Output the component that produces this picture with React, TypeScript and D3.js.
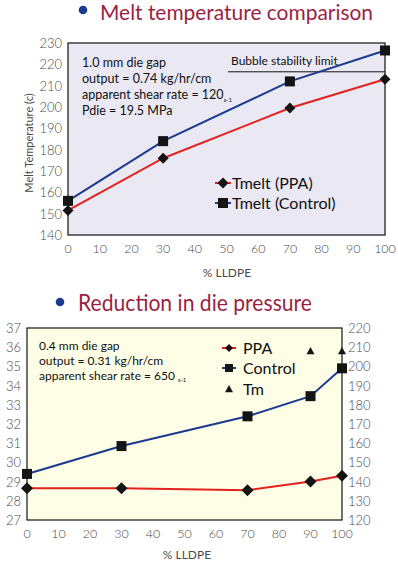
import React from 'react';
import * as d3 from 'd3';

// top chart: melt temperature
const meltX = [0, 30, 70, 100];
const meltPPA = [151.5, 176, 199.5, 213];
const meltControl = [156, 184, 212, 226.5];
const bubbleLimit = 216.5;
const meltYTicks = [140, 150, 160, 170, 180, 190, 200, 210, 220, 230];
const pctTicks = [0, 10, 20, 30, 40, 50, 60, 70, 80, 90, 100];

// bottom chart: die pressure
const pressX = [0, 30, 70, 90, 100];
const pressPPA = [28.65, 28.65, 28.55, 29.0, 29.3];
const pressControl = [29.4, 30.85, 32.4, 33.45, 34.9];
const tmX = [90, 100];
const tmValues = [208, 208];
const pressLeftTicks = [27, 28, 29, 30, 31, 32, 33, 34, 35, 36, 37];
const pressRightTicks = [120, 130, 140, 150, 160, 170, 180, 190, 200, 210, 220];

const RED = '#e3211f';
const BLUE = '#1b3a8f';
const TITLE = '#9c1f42';
const GREY = '#4a4a4a';
const FONT = 'Lato, "DejaVu Sans", sans-serif';

const Diamond = ({ x, y, r = 5.5 }: { x: number; y: number; r?: number }) => (
  <path d={`M${x},${y - r}L${x + r},${y}L${x},${y + r}L${x - r},${y}Z`} fill="#141414" />
);
const Square = ({ x, y, s = 10 }: { x: number; y: number; s?: number }) => (
  <rect x={x - s / 2} y={y - s / 2} width={s} height={s} fill="#141414" />
);
const Triangle = ({ x, y, r = 5 }: { x: number; y: number; r?: number }) => (
  <path d={`M${x},${y - r}L${x + r},${y + r * 0.8}L${x - r},${y + r * 0.8}Z`} fill="#141414" />
);

const MeltChart = () => {
  const x = d3.scaleLinear().domain([0, 100]).range([68, 385]);
  const y = d3.scaleLinear().domain([140, 230]).range([235, 43]);
  const line = d3.line<number>().x((_, i) => x(meltX[i])).y(d => y(d));
  return (
    <g>
      <circle cx={83} cy={10} r={4.3} fill="#1b3a8f" />
      <text x={100} y={20} fontSize={21} fill={TITLE} fontFamily={FONT} textLength={273} lengthAdjust="spacingAndGlyphs">Melt temperature comparison</text>
      <rect x={68} y={43} width={317} height={192} fill="#e9e8f3" stroke="#111" strokeWidth={1.2} />
      {meltYTicks.map(t => (
        <text key={t} x={62} y={y(t) + 5} textAnchor="end" fontSize={13} fill={GREY} fontFamily={FONT} fontWeight={300}>{t}</text>
      ))}
      {pctTicks.map(t => (
        <text key={t} x={x(t)} y={253} textAnchor="middle" fontSize={12.5} fill={GREY} fontFamily={FONT} fontWeight={300}>{t}</text>
      ))}
      <text x={227} y={277} textAnchor="middle" fontSize={12} fill={GREY} fontFamily={FONT}>% LLDPE</text>
      <text transform="translate(33,143) rotate(-90)" textAnchor="middle" fontSize={11} fill={GREY} fontFamily={FONT}>Melt Temperature (c)</text>
      <line x1={228} x2={385} y1={y(bubbleLimit)} y2={y(bubbleLimit)} stroke="#111" strokeWidth={1} />
      <text x={231} y={65} fontSize={12} fill="#111" fontFamily={FONT}>Bubble stability limit</text>
      <g fontSize={12.5} fill="#111" fontFamily={FONT}>
        <text x={82} y={67}>1.0 mm die gap</text>
        <text x={82} y={83}>output = 0.74 kg/hr/cm</text>
        <text x={82} y={99}>apparent shear rate = 120<tspan fontSize={6} dy={3}>s-1</tspan></text>
        <text x={82} y={115}>Pdie = 19.5 MPa</text>
      </g>
      <path d={line(meltPPA) || ''} fill="none" stroke={RED} strokeWidth={2} />
      <path d={line(meltControl) || ''} fill="none" stroke={BLUE} strokeWidth={2} />
      {meltPPA.map((v, i) => <Diamond key={'p' + i} x={x(meltX[i])} y={y(v)} />)}
      {meltControl.map((v, i) => <Square key={'c' + i} x={x(meltX[i])} y={y(v)} />)}
      <line x1={215} x2={231} y1={183} y2={183} stroke={RED} strokeWidth={2} />
      <Diamond x={223} y={183} />
      <text x={232} y={189} fontSize={16} fill="#111" fontFamily={FONT}>Tmelt (PPA)</text>
      <line x1={215} x2={231} y1={203} y2={203} stroke={BLUE} strokeWidth={2} />
      <Square x={223} y={203} />
      <text x={232} y={209} fontSize={16} fill="#111" fontFamily={FONT}>Tmelt (Control)</text>
    </g>
  );
};

const PressureChart = () => {
  const x = d3.scaleLinear().domain([0, 100]).range([27, 342]);
  const yL = d3.scaleLinear().domain([27, 37]).range([520, 328]);
  const yR = d3.scaleLinear().domain([120, 220]).range([520, 328]);
  const ppaLine = d3.line<number>().x((_, i) => x(pressX[i])).y(d => yL(d));
  return (
    <g>
      <circle cx={60} cy={302} r={4.3} fill="#1b3a8f" />
      <text x={78} y={311} fontSize={23.5} fill={TITLE} fontFamily={FONT} textLength={234} lengthAdjust="spacingAndGlyphs">Reduction in die pressure</text>
      <rect x={27} y={328} width={315} height={192} fill="#fefee6" stroke="#111" strokeWidth={1.2} />
      {pressLeftTicks.map(t => (
        <text key={t} x={21} y={yL(t) + 5} textAnchor="end" fontSize={13} fill={GREY} fontFamily={FONT} fontWeight={300}>{t}</text>
      ))}
      {pressRightTicks.map(t => (
        <text key={t} x={348} y={yR(t) + 5} fontSize={13} fill={GREY} fontFamily={FONT} fontWeight={300}>{t}</text>
      ))}
      {pctTicks.map(t => (
        <text key={t} x={x(t)} y={538} textAnchor="middle" fontSize={12.5} fill={GREY} fontFamily={FONT} fontWeight={300}>{t}</text>
      ))}
      <text x={187} y={559} textAnchor="middle" fontSize={12} fill={GREY} fontFamily={FONT}>% LLDPE</text>
      <g fontSize={12} fill="#111" fontFamily={FONT}>
        <text x={39} y={350}>0.4 mm die gap</text>
        <text x={39} y={365}>output = 0.31 kg/hr/cm</text>
        <text x={39} y={380}>apparent shear rate = 650 <tspan fontSize={6} dy={2}>s-1</tspan></text>
      </g>
      <path d={ppaLine(pressPPA) || ''} fill="none" stroke={RED} strokeWidth={2} />
      <path d={ppaLine(pressControl) || ''} fill="none" stroke={BLUE} strokeWidth={2} />
      {pressPPA.map((v, i) => <Diamond key={'p' + i} x={x(pressX[i])} y={yL(v)} r={6} />)}
      {pressControl.map((v, i) => <Square key={'c' + i} x={x(pressX[i])} y={yL(v)} />)}
      {tmValues.map((v, i) => <Triangle key={'t' + i} x={x(tmX[i])} y={yR(v)} r={4} />)}
      <line x1={222} x2={236} y1={348} y2={348} stroke={RED} strokeWidth={2} />
      <Diamond x={229} y={348} r={4} />
      <text x={243} y={354} fontSize={16} fill="#111" fontFamily={FONT}>PPA</text>
      <line x1={222} x2={236} y1={368} y2={368} stroke={BLUE} strokeWidth={2} />
      <Square x={229} y={368} s={8} />
      <text x={243} y={374} fontSize={16} fill="#111" fontFamily={FONT}>Control</text>
      <Triangle x={229} y={389} r={4} />
      <text x={243} y={395} fontSize={16} fill="#111" fontFamily={FONT}>Tm</text>
    </g>
  );
};

export default function App() {
  return (
    <svg width={398} height={563} viewBox="0 0 398 563" style={{ position: 'absolute', left: 0, top: 0, background: '#fff' }}>
      <MeltChart />
      <PressureChart />
    </svg>
  );
}
